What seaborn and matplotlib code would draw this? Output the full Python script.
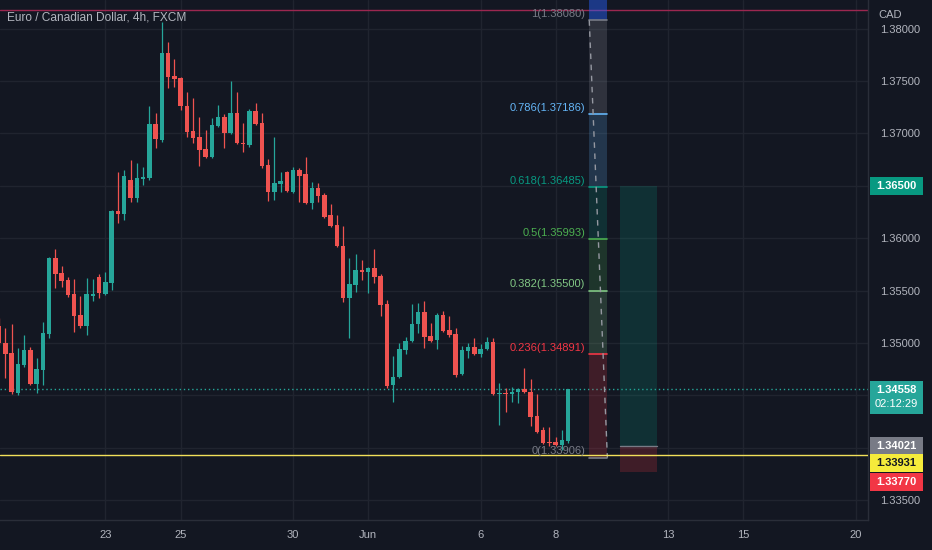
import numpy as np
import pandas as pd
import matplotlib
matplotlib.use("Agg")
import matplotlib.pyplot as plt
import matplotlib.transforms as mtransforms
from matplotlib.patches import Rectangle
import seaborn as sns

# --------------------------
# Data (EUR/CAD 4h candles)
# --------------------------
opens = [1.35163, 1.35000, 1.34905, 1.34524, 1.34790, 1.34934, 1.34610, 1.34743, 1.35086, 1.35811,
         1.35668, 1.35602, 1.35468, 1.35268, 1.35163, 1.35449, 1.35630, 1.35468, 1.35573, 1.36260,
         1.36231, 1.36556, 1.36384, 1.36565, 1.36575, 1.37090, 1.36937, 1.37767, 1.37548, 1.37529,
         1.37261, 1.37023, 1.36966, 1.36851, 1.36775, 1.37071, 1.37157, 1.37004, 1.37195, 1.36909,
         1.36889, 1.37214, 1.37099, 1.36699, 1.36441, 1.36518, 1.36632, 1.36441, 1.36651, 1.36613,
         1.36336, 1.36479, 1.36413, 1.36222, 1.36126, 1.35926, 1.35430, 1.35554, 1.35697, 1.35678,
         1.35716, 1.35640, 1.35373, 1.34600, 1.34676, 1.34934, 1.35019, 1.35182, 1.35296, 1.35067,
         1.35029, 1.35268, 1.35125, 1.35086, 1.34705, 1.34924, 1.34962, 1.34896, 1.34943, 1.35010,
         1.34514, 1.34524, 1.34514, 1.34533, 1.34562, 1.34533, 1.34305, 1.34171, 1.34056, 1.34056,
         1.34028, 1.34066]
highs = [1.35239, 1.35144, 1.35182, 1.34953, 1.35077, 1.34962, 1.34857, 1.35201, 1.35821, 1.35897,
         1.35735, 1.35630, 1.35611, 1.35449, 1.35621, 1.35611, 1.35659, 1.35678, 1.36270, 1.36632,
         1.36651, 1.36746, 1.36718, 1.36680, 1.37261, 1.37195, 1.38063, 1.37872, 1.37710, 1.37538,
         1.37395, 1.37338, 1.37157, 1.37033, 1.37147, 1.37271, 1.37185, 1.37500, 1.37395, 1.37099,
         1.37233, 1.37290, 1.37195, 1.36756, 1.36966, 1.36632, 1.36641, 1.36680, 1.36670, 1.36775,
         1.36537, 1.36527, 1.36432, 1.36327, 1.36222, 1.36117, 1.35811, 1.35850, 1.35792, 1.35726,
         1.35897, 1.35659, 1.35411, 1.34877, 1.35000, 1.35058, 1.35373, 1.35383, 1.35402, 1.35191,
         1.35287, 1.35306, 1.35258, 1.35144, 1.34972, 1.35000, 1.35048, 1.34991, 1.35058, 1.35048,
         1.34619, 1.34571, 1.34581, 1.34571, 1.34762, 1.34657, 1.34514, 1.34199, 1.34199, 1.34104,
         1.34171, 1.34562]
lows = [1.34981, 1.34667, 1.34514, 1.34505, 1.34771, 1.34600, 1.34524, 1.34600, 1.35048, 1.35526,
        1.35535, 1.35440, 1.35105, 1.35144, 1.35077, 1.35402, 1.35430, 1.35459, 1.35506, 1.36145,
        1.36174, 1.36346, 1.36346, 1.36508, 1.36556, 1.36861, 1.36918, 1.37433, 1.37443, 1.37223,
        1.36966, 1.36909, 1.36689, 1.36766, 1.36766, 1.37061, 1.36861, 1.36994, 1.36899, 1.36823,
        1.36870, 1.37080, 1.36670, 1.36355, 1.36365, 1.36441, 1.36441, 1.36432, 1.36346, 1.36327,
        1.36279, 1.36346, 1.36193, 1.36107, 1.35916, 1.35392, 1.35048, 1.35487, 1.35602, 1.35478,
        1.35573, 1.35258, 1.34571, 1.34437, 1.34667, 1.34896, 1.35010, 1.35096, 1.34953, 1.35010,
        1.34943, 1.35105, 1.35058, 1.34676, 1.34695, 1.34857, 1.34886, 1.34867, 1.34934, 1.34505,
        1.34218, 1.34343, 1.34437, 1.34428, 1.34524, 1.34209, 1.34142, 1.34037, 1.34018, 1.34018,
        1.33980, 1.34047]
closes = [1.35000, 1.34896, 1.34533, 1.34800, 1.34934, 1.34610, 1.34752, 1.35096, 1.35811, 1.35659,
          1.35592, 1.35459, 1.35258, 1.35163, 1.35468, 1.35468, 1.35478, 1.35583, 1.36260, 1.36231,
          1.36594, 1.36384, 1.36575, 1.36584, 1.37090, 1.36947, 1.37767, 1.37538, 1.37519, 1.37261,
          1.37013, 1.36956, 1.36842, 1.36775, 1.37080, 1.37157, 1.37004, 1.37195, 1.36909, 1.36899,
          1.37214, 1.37090, 1.36689, 1.36441, 1.36527, 1.36546, 1.36451, 1.36651, 1.36594, 1.36336,
          1.36479, 1.36403, 1.36203, 1.36117, 1.35926, 1.35430, 1.35564, 1.35697, 1.35678, 1.35716,
          1.35630, 1.35364, 1.34590, 1.34676, 1.34943, 1.35019, 1.35182, 1.35296, 1.35058, 1.35019,
          1.35268, 1.35115, 1.35077, 1.34695, 1.34934, 1.34962, 1.34896, 1.34943, 1.35010, 1.34514,
          1.34524, 1.34514, 1.34533, 1.34562, 1.34533, 1.34295, 1.34152, 1.34047, 1.34047, 1.34028,
          1.34075, 1.34558]
first_bar = -17          # bar index relative to Mon May 23 00:00, 6 bars per trading day

date_labels = ["23", "25", "30", "Jun", "6", "8", "13", "15", "20"]
date_values = ["2022-05-23", "2022-05-25", "2022-05-30", "2022-06-01", "2022-06-06",
               "2022-06-08", "2022-06-13", "2022-06-15", "2022-06-20"]

price_ticks = [1.335, 1.340, 1.345, 1.350, 1.355, 1.360, 1.365, 1.370, 1.375, 1.380]
hidden_ticks = [1.340, 1.345, 1.365]   # covered by the price tags on the scale

fib_ratios = ["1", "0.786", "0.618", "0.5", "0.382", "0.236", "0"]
fib_prices = [1.38080, 1.37186, 1.36485, 1.35993, 1.35500, 1.34891, 1.33906]
fib_colors = ["#787b86", "#64b5f6", "#089981", "#4caf50", "#81c784", "#f23645", "#787b86"]
fib_bars = (77.4, 80.3)

entry_price = 1.34021
target_price = 1.36500
stop_price = 1.33770
position_bars = (82.3, 88.2)

last_price = 1.34558
countdown = "02:12:29"
alert_price = 1.33931
top_line_price = 1.38178

# --------------------------
# Style
# --------------------------
BG = "#131722"
GRID = "#20242f"
TXT = "#b2b5be"
UP = "#26a69a"
DOWN = "#ef5350"
FS = 8.0

sns.set_theme(style="dark", rc={"axes.facecolor": BG, "figure.facecolor": BG})
plt.rcParams["font.family"] = ["Liberation Sans", "DejaVu Sans"]

fig = plt.figure(figsize=(9.32, 5.5), dpi=100)
ax = fig.add_axes([0, 30 / 550, 868 / 932, 520 / 550])
ax.set_facecolor(BG)

ymin, ymax = 1.33311, 1.38273
ax.set_ylim(ymin, ymax)
ax.set_xlim(-16.88, 122.0)
px = (ymax - ymin) / 520.0   # price per pixel

df = pd.DataFrame({"open": opens, "high": highs, "low": lows, "close": closes})
df["x"] = np.arange(first_bar, first_bar + len(df))
df["up"] = df["close"] >= df["open"]
df["color"] = np.where(df["up"], UP, DOWN)

# grid + scales
date_pos = [np.busday_count("2022-05-23", d) * 6 for d in date_values]
ax.set_xticks(date_pos)
ax.set_xticklabels(date_labels)
ax.set_yticks(price_ticks)
ax.set_yticklabels(["" if p in hidden_ticks else f"{p:.5f}" for p in price_ticks])
ax.yaxis.tick_right()
ax.grid(True, color=GRID, linewidth=1)
ax.tick_params(axis="x", length=0, pad=7, colors=TXT, labelsize=FS)
ax.tick_params(axis="y", length=0, pad=9, colors=TXT, labelsize=FS)
for side in ["top", "left"]:
    ax.spines[side].set_visible(False)
for side in ["bottom", "right"]:
    ax.spines[side].set_color("#2a2e39")
    ax.spines[side].set_linewidth(1)

# candles
ax.vlines(df["x"], df["low"], df["high"], colors=df["color"], linewidth=0.9, zorder=3)
body_lo = np.minimum(df["open"], df["close"])
body_h = np.maximum(np.abs(df["close"] - df["open"]), px * 1.2)
ax.bar(df["x"], body_h, bottom=body_lo, width=0.72, color=df["color"], linewidth=0, zorder=4)

# horizontal lines
ax.axhline(top_line_price, color="#9c2750", linewidth=1, zorder=2)
ax.axhline(alert_price, color="#f2e05a", linewidth=1, zorder=5)
ax.axhline(last_price, color=UP, linewidth=1, linestyle=(0, (1, 2)), zorder=2)

# fib retracement
x0, x1 = fib_bars
ax.fill_between([x0, x1], fib_prices[0], ymax + 0.002, color="#2962ff", alpha=0.45, linewidth=0, zorder=2)
for i in range(len(fib_prices) - 1):
    ax.fill_between([x0, x1], fib_prices[i + 1], fib_prices[i], color=fib_colors[i],
                    alpha=0.28 if i == 0 else 0.2, linewidth=0, zorder=2)
for r, p, c in zip(fib_ratios, fib_prices, fib_colors):
    ax.plot([x0, x1], [p, p], color=c, linewidth=1.2, zorder=3)
    ax.annotate(f"{r}({p:.5f})", xy=(x0, p), xytext=(-3, 4.6), textcoords="offset points",
                ha="right", va="center", color=c, fontsize=FS, zorder=6)
ax.plot([x0, x1], [fib_prices[0], fib_prices[-1]], color="#9598a1", linewidth=1,
        linestyle=(0, (4, 4)), zorder=3)

# long position tool
p0, p1 = position_bars
ax.fill_between([p0, p1], entry_price, target_price, color="#089981", alpha=0.2, linewidth=0, zorder=2)
ax.fill_between([p0, p1], stop_price, entry_price, color="#f23645", alpha=0.2, linewidth=0, zorder=2)
ax.plot([p0, p1], [entry_price, entry_price], color="#787b86", linewidth=1, zorder=3)

# texts
ax.text(7 / 868, 1 - 18 / 520, "Euro / Canadian Dollar, 4h, FXCM", transform=ax.transAxes,
        color=TXT, fontsize=8.6, va="center", ha="left")
ax.text(878 / 868, 1 - 15 / 520, "CAD", transform=ax.transAxes, color=TXT,
        fontsize=FS, va="center", ha="left")

# price scale tags
tr = mtransforms.blended_transform_factory(ax.transAxes, ax.transData)
bx0, bx1 = 870 / 868, 923 / 868


def axis_tag(price, lines, fc, tc, down=0, h=18):
    # down: how many pixels the tag centre sits below its price (to avoid overlap)
    if len(lines) > 1:
        top = price + px * 8
    else:
        top = price + px * (h / 2 - down)
    ax.add_patch(Rectangle((bx0, top - px * h), bx1 - bx0, px * h, transform=tr,
                           facecolor=fc, edgecolor="none", clip_on=False, zorder=8))
    for j, t in enumerate(lines):
        ax.text((bx0 + bx1) / 2, top - px * (9 + 14 * j), t, transform=tr, color=tc,
                fontsize=FS, fontweight="bold" if j == 0 else "normal",
                ha="center", va="center", clip_on=False, zorder=9)


axis_tag(target_price, [f"{target_price:.5f}"], "#089981", "white")
axis_tag(last_price, [f"{last_price:.5f}", countdown], "#26a69a", "white", h=33)
axis_tag(entry_price, [f"{entry_price:.5f}"], "#787b86", "white", down=0)
axis_tag(alert_price, [f"{alert_price:.5f}"], "#f5eb3b", "#131722", down=8)
axis_tag(stop_price, [f"{stop_price:.5f}"], "#f23645", "white", down=10)

fig.savefig("out.png", dpi=100, facecolor=BG)
